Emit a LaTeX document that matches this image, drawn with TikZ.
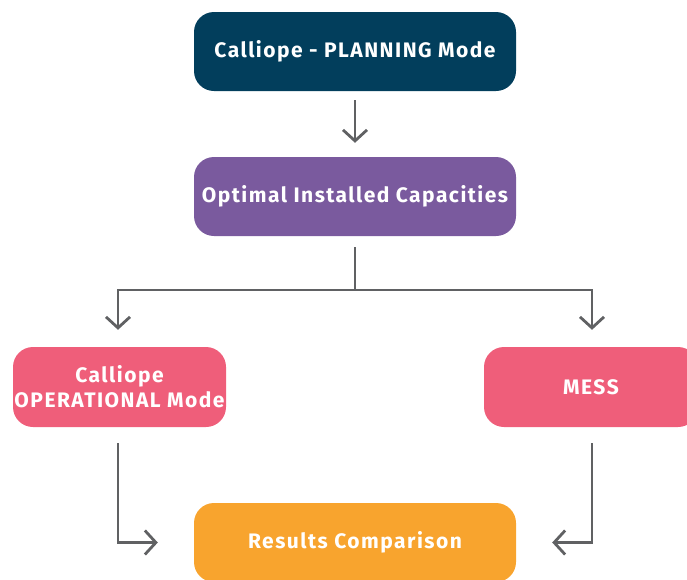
\documentclass[tikz,border=0pt]{standalone}
\usepackage{fontspec}
\setmainfont{Fira Sans}[LetterSpace=7]
\usetikzlibrary{arrows.meta}
\definecolor{navy}{HTML}{023E5C}
\definecolor{purp}{HTML}{7A5A9E}
\definecolor{pinkc}{HTML}{EF5E7A}
\definecolor{orangec}{HTML}{F8A42E}
\definecolor{grayc}{HTML}{606163}
\tikzset{
  box/.style={rounded corners=20pt, minimum height=79pt, inner sep=0pt, text=white,
    font=\fontsize{21}{25}\selectfont\bfseries, align=center},
  conn/.style={draw=grayc, line width=2.8pt, -{Straight Barb[length=11pt,width=24pt,line width=2.8pt]}},
  plain/.style={draw=grayc, line width=2.8pt}
}
\begin{document}
\begin{tikzpicture}[x=1pt,y=-1pt]
\useasboundingbox (0,0) rectangle (687,579);
\clip (0,0) rectangle (687,579);
\node[box, fill=navy, minimum width=322pt] (plan) at (355,51.5) {Calliope - PLANNING Mode};
\node[box, fill=purp, minimum width=322pt] (opt) at (355,196.5) {Optimal Installed Capacities};
\node[box, fill=pinkc, minimum width=213pt, minimum height=80pt] (oper) at (119.5,387) {Calliope\\[0pt]OPERATIONAL Mode};
\node[box, fill=pinkc, minimum width=214pt, minimum height=80pt] (mess) at (591,387) {MESS};
\node[box, fill=orangec, minimum width=322pt] (res) at (355,542.5) {Results Comparison};
\coordinate (split) at (355,290);
\draw[conn] ([yshift=-9pt]plan.south) -- ([yshift=14pt]opt.north);
\draw[plain] ([yshift=-11pt]opt.south) -- (split);
\draw[conn] (split) -| ([xshift=-1.5pt, yshift=17pt]oper.north);
\draw[conn] (split) -| ([xshift=1pt, yshift=17pt]mess.north);
\draw[conn] ([xshift=-1.5pt, yshift=-16pt]oper.south) |- ([xshift=-36pt]res.west);
\draw[conn] ([xshift=1pt, yshift=-16pt]mess.south) |- ([xshift=36pt]res.east);
\end{tikzpicture}
\end{document}
